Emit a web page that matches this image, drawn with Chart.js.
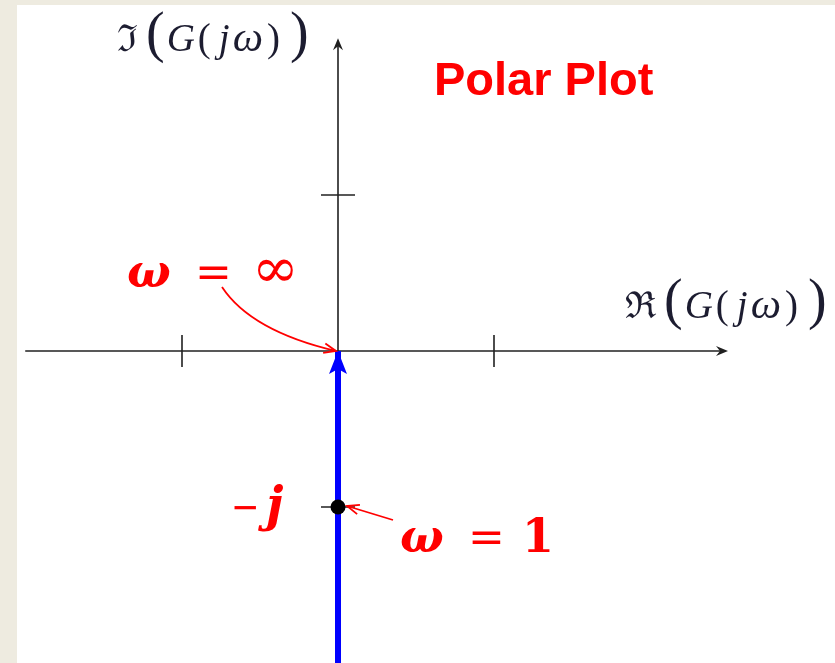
<!DOCTYPE html>
<html>
<head>
<meta charset="utf-8">
<script src="https://cdn.jsdelivr.net/npm/chart.js@4.4.0/dist/chart.umd.min.js"></script>
<style>
  html, body { margin: 0; padding: 0; background: #eeebe0; }
  #polarChart { display: block; }
</style>
</head>
<body>
<canvas id="polarChart" width="835" height="663"></canvas>
<script>
// G(jω) = 1/(jω): the locus runs along the negative imaginary axis
const locusRe = [0, 0];
const locusIm = [-2, 0];
// ω = 1 lands on −j
const markRe = [0];
const markIm = [-1];
// unit ticks on both axes
const xTicks = [-1, 1];
const yTicks = [1, -1];
// how far the drawn axes reach
const xAxisRange = [-2.005, 2.5];
const yAxisRange = [-2, 2.005];

const RED = '#ff0000';
const INK = '#1c1c30';

function arrowBarbs(c, x, y, ang, len, spread) {
    c.beginPath();
    c.moveTo(x - len * Math.cos(ang - spread), y - len * Math.sin(ang - spread));
    c.lineTo(x, y);
    c.lineTo(x - len * Math.cos(ang + spread), y - len * Math.sin(ang + spread));
    c.stroke();
}

// small latex-like filled arrowhead for the axes
function axisHead(c, x, y, ang) {
    c.save();
    c.translate(x, y);
    c.rotate(ang);
    c.beginPath();
    c.moveTo(0, 0);
    c.lineTo(-12, -5);
    c.lineTo(-8, 0);
    c.lineTo(-12, 5);
    c.closePath();
    c.fill();
    c.restore();
}

// draw text pieces one after the other on a common baseline
function runText(c, x, y, pieces) {
    let cx = x;
    for (const [txt, font, gap] of pieces) {
        c.font = font;
        cx += gap || 0;
        c.fillText(txt, cx, y);
        cx += c.measureText(txt).width;
    }
}

const polarDecor = {
    id: 'polarDecor',
    beforeDraw(chart) {
        const c = chart.ctx;
        c.save();
        c.fillStyle = '#eeebe0';
        c.fillRect(0, 0, chart.width, chart.height);
        c.fillStyle = '#ffffff';
        c.fillRect(17, 5, chart.width - 17, chart.height - 5);
        c.restore();
    },
    beforeDatasetsDraw(chart) {
        const c = chart.ctx;
        const xs = chart.scales.x, ys = chart.scales.y;
        const ox = xs.getPixelForValue(0), oy = ys.getPixelForValue(0);
        c.save();
        c.strokeStyle = '#202020';
        c.fillStyle = '#202020';
        c.lineWidth = 1.6;
        // real axis
        const xr = xs.getPixelForValue(xAxisRange[1]);
        c.beginPath();
        c.moveTo(xs.getPixelForValue(xAxisRange[0]), oy);
        c.lineTo(xr - 4, oy);
        c.stroke();
        axisHead(c, xr, oy, 0);
        // imaginary axis
        const yt = ys.getPixelForValue(yAxisRange[1]);
        c.beginPath();
        c.moveTo(ox, ys.getPixelForValue(yAxisRange[0]));
        c.lineTo(ox, yt + 4);
        c.stroke();
        axisHead(c, ox, yt, -Math.PI / 2);
        // ticks
        xTicks.forEach(v => {
            const px = xs.getPixelForValue(v);
            c.beginPath();
            c.moveTo(px, oy - 16);
            c.lineTo(px, oy + 16);
            c.stroke();
        });
        yTicks.forEach(v => {
            const py = ys.getPixelForValue(v);
            c.beginPath();
            c.moveTo(ox - 17, py);
            c.lineTo(ox + 17, py);
            c.stroke();
        });
        c.restore();
    },
    afterDatasetsDraw(chart) {
        const c = chart.ctx;
        const xs = chart.scales.x, ys = chart.scales.y;
        const ox = xs.getPixelForValue(0), oy = ys.getPixelForValue(0);
        c.save();

        // arrowhead at the end of the locus (ω → ∞)
        const tipX = xs.getPixelForValue(locusRe[locusRe.length - 1]);
        const tipY = ys.getPixelForValue(locusIm[locusIm.length - 1]);
        c.fillStyle = '#0000ff';
        c.beginPath();
        c.moveTo(tipX, tipY);
        c.lineTo(tipX - 9, tipY + 23);
        c.lineTo(tipX, tipY + 18);
        c.lineTo(tipX + 9, tipY + 23);
        c.closePath();
        c.fill();

        // axis labels
        c.fillStyle = INK;
        c.textBaseline = 'alphabetic';
        const lab = [
            ['(', '56px "Liberation Serif"', 8],
            ['G', 'italic 39px "Liberation Serif"', 2],
            ['(', '39px "Liberation Serif"', 3],
            ['j', 'italic 39px "Liberation Serif"', 8],
            ['ω', 'italic 43px "Liberation Serif"', 3],
            [')', '39px "Liberation Serif"', 4],
            [')', '56px "Liberation Serif"', 10]
        ];
        runText(c, ox - 221, oy - 300, [['ℑ', '37px "DejaVu Serif"', 0]].concat(lab));
        runText(c, ox + 287, oy - 33, [['ℜ', '37px "DejaVu Serif"', 0]].concat(lab));

        // title
        c.fillStyle = RED;
        c.font = 'bold 47px "Liberation Sans", Arial, sans-serif';
        c.fillText('Polar Plot', ox + 96, oy - 256);

        // ω = ∞ callout
        c.font = 'bold italic 46px "DejaVu Serif"';
        c.fillText('ω', ox - 211, oy - 64);
        c.font = '44px "DejaVu Serif"';
        c.fillText('=', ox - 143, oy - 64);
        c.font = '56px "DejaVu Serif"';
        c.fillText('∞', ox - 86, oy - 64);

        c.strokeStyle = RED;
        c.lineWidth = 1.8;
        const sx = ox - 116, sy = oy - 64, qx = ox - 87, qy = oy - 20, ex = ox - 2, ey = oy;
        c.beginPath();
        c.moveTo(sx, sy);
        c.quadraticCurveTo(qx, qy, ex, ey);
        c.stroke();
        arrowBarbs(c, ex, ey, Math.atan2(ey - qy, ex - qx), 13, 0.38);

        // −j label at the tick
        const my = ys.getPixelForValue(markIm[0]);
        const mx = xs.getPixelForValue(markRe[0]);
        c.font = 'bold 46px "Liberation Serif"';
        c.fillText('−', ox - 106, my + 16);
        c.font = 'bold italic 48px "DejaVu Serif"';
        c.fillText('j', ox - 72, my + 14);

        // ω = 1 callout
        c.font = 'bold italic 46px "DejaVu Serif"';
        c.fillText('ω', ox + 62, oy + 201);
        c.font = '44px "DejaVu Serif"';
        c.fillText('=', ox + 130, oy + 201);
        c.font = 'bold 46px "DejaVu Serif"';
        c.fillText('1', ox + 184, oy + 201);

        const ax0 = ox + 55, ay0 = oy + 169, ax1 = mx + 9, ay1 = my - 1;
        c.beginPath();
        c.moveTo(ax0, ay0);
        c.lineTo(ax1, ay1);
        c.stroke();
        arrowBarbs(c, ax1, ay1, Math.atan2(ay1 - ay0, ax1 - ax0), 13, 0.38);

        c.restore();
    }
};

const ctx = document.getElementById('polarChart');
new Chart(ctx, {
    type: 'scatter',
    data: {
        datasets: [
            {
                label: 'G(jω)',
                data: locusRe.map((x, i) => ({ x: x, y: locusIm[i] })),
                showLine: true,
                borderColor: '#0000ff',
                borderWidth: 6,
                borderCapStyle: 'butt',
                pointRadius: 0,
                clip: false,
                order: 2
            },
            {
                label: 'ω = 1',
                data: markRe.map((x, i) => ({ x: x, y: markIm[i] })),
                showLine: false,
                pointRadius: 7.5,
                pointBackgroundColor: '#000000',
                pointBorderWidth: 0,
                order: 1
            }
        ]
    },
    options: {
        responsive: false,
        animation: false,
        events: [],
        layout: { padding: 0, autoPadding: false },
        plugins: {
            legend: { display: false },
            tooltip: { enabled: false }
        },
        scales: {
            x: { type: 'linear', display: false, min: -338 / 156, max: 497 / 156 },
            y: { type: 'linear', display: false, min: -2, max: 2.25 }
        }
    },
    plugins: [polarDecor]
});
</script>
</body>
</html>
